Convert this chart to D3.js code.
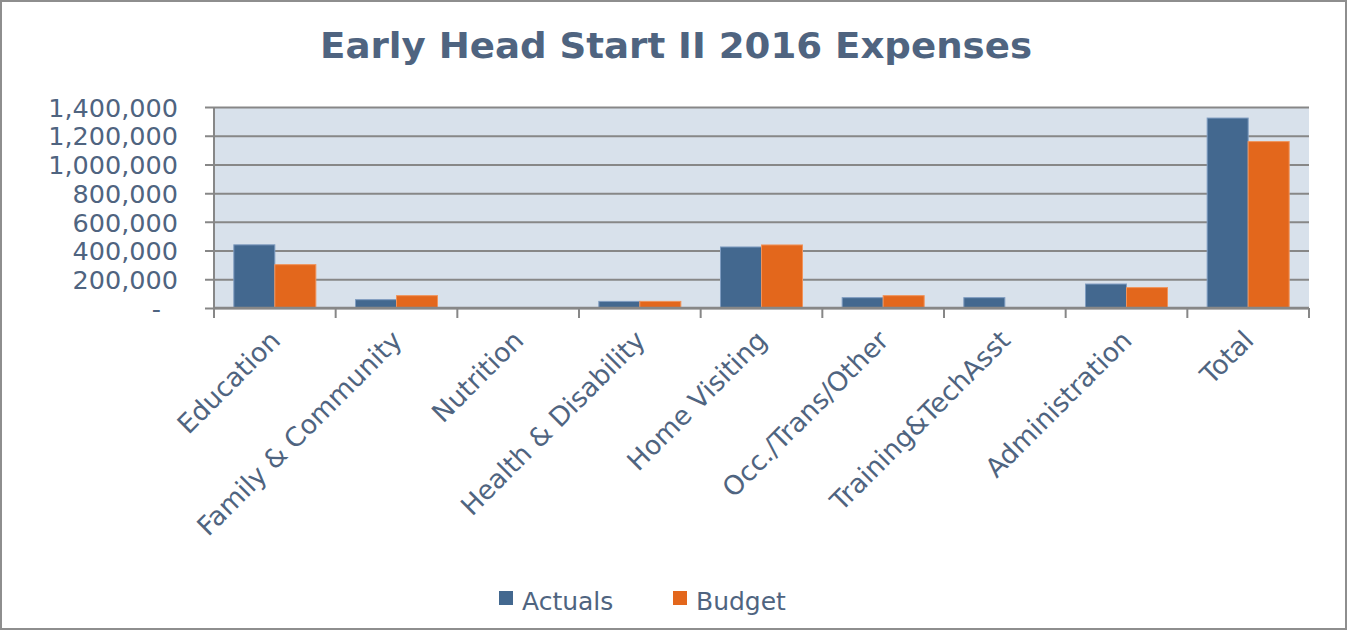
<!DOCTYPE html>
<html>
<head>
<meta charset="utf-8">
<script src="https://cdn.jsdelivr.net/npm/d3@7"></script>
<style>
  html, body { margin: 0; padding: 0; background: #fff; }
  svg { display: block; }
  text { font-family: "DejaVu Sans", Verdana, sans-serif; fill: #4f6480; }
</style>
</head>
<body>
<script>
// values
var categories = ['Education', 'Family & Community', 'Nutrition', 'Health & Disability',
                  'Home Visiting', 'Occ./Trans/Other', 'Training&TechAsst', 'Administration', 'Total'];
var actuals = [440000, 58000, 1500, 46000, 425000, 72000, 72000, 167000, 1323000];
var budget  = [302000, 86000, 1500, 46000, 439000, 86000, 0, 142000, 1159000];
var seriesNames = ['Actuals', 'Budget'];
var seriesColors = ['#43688f', '#e3671c'];
var seriesStroke = ['#7f9cc0', '#f0935a'];
var yTicks = [0, 200000, 400000, 600000, 800000, 1000000, 1200000, 1400000];

var W = 1348, H = 631;
var margin = {top: 107, right: 39, bottom: 323, left: 214};
var width = W - margin.left - margin.right,
    height = H - margin.top - margin.bottom;

var svg = d3.select("body").append("svg")
    .attr("width", W)
    .attr("height", H);

// outer frame
svg.append("rect")
    .attr("x", 1).attr("y", 1)
    .attr("width", W - 3).attr("height", H - 3)
    .attr("fill", "#fff")
    .attr("stroke", "#8e8e8e")
    .attr("stroke-width", 2);

// title
svg.append("text")
    .attr("x", 676)
    .attr("y", 58)
    .attr("text-anchor", "middle")
    .style("font-size", "36px")
    .style("font-weight", "bold")
    .attr("textLength", 712)
    .attr("lengthAdjust", "spacingAndGlyphs")
    .text("Early Head Start II 2016 Expenses");

var g = svg.append("g")
    .attr("transform", "translate(" + margin.left + "," + margin.top + ")");

var x0 = d3.scaleBand().domain(categories).range([0, width]).padding(0);
var bw = x0.bandwidth();
var x1 = d3.scaleBand().domain(seriesNames).range([bw * 0.163, bw * 0.837]).padding(0);
var y = d3.scaleLinear().domain([0, 1400000]).range([height, 0]);

// plot background
g.append("rect")
    .attr("width", width).attr("height", height)
    .attr("fill", "#d8e1eb");

// y axis with gridlines
var yAxis = g.append("g")
    .call(d3.axisLeft(y).tickValues(yTicks)
      .tickSize(-width)
      .tickSizeOuter(0)
      .tickPadding(36)
      .tickFormat(function(d) { return d === 0 ? "-" : d3.format(",")(d); }));
yAxis.select(".domain").remove();
yAxis.selectAll(".tick line")
    .attr("x1", -9)
    .attr("stroke", "#878787")
    .attr("stroke-width", 2);
yAxis.selectAll(".tick text")
    .style("font-size", "25.5px")
    .attr("fill", "#4f6480")
    .attr("dy", "0.36em")
    .attr("dx", function(d) { return d === 0 ? -17 : 0; });

// bars
var rows = categories.map(function(c, i) {
  return {cat: c, values: [actuals[i], budget[i]]};
});

var groups = g.selectAll(".grp")
    .data(rows)
  .enter().append("g")
    .attr("class", "grp")
    .attr("transform", function(d) { return "translate(" + x0(d.cat) + ",0)"; });

groups.selectAll("rect")
    .data(function(d) { return d.values.map(function(v, k) { return {key: seriesNames[k], k: k, value: v}; }); })
  .enter().append("rect")
    .attr("x", function(d) { return x1(d.key); })
    .attr("y", function(d) { return y(d.value); })
    .attr("width", x1.bandwidth())
    .attr("height", function(d) { return height - y(d.value); })
    .attr("fill", function(d) { return seriesColors[d.k]; })
    .attr("stroke", function(d) { return d.value > 0 ? seriesStroke[d.k] : "none"; })
    .attr("stroke-width", 1);

// left axis line
g.append("line")
    .attr("x1", 0).attr("x2", 0)
    .attr("y1", 0).attr("y2", height)
    .attr("stroke", "#878787")
    .attr("stroke-width", 2);

// x axis
var xTickPos = categories.map(function(c) { return x0(c); }).concat([width]);
var xAxis = g.append("g").attr("transform", "translate(0," + height + ")");
xAxis.append("line")
    .attr("x1", 0).attr("x2", width)
    .attr("stroke", "#878787")
    .attr("stroke-width", 2.5);
xAxis.selectAll(".xt")
    .data(xTickPos)
  .enter().append("line")
    .attr("class", "xt")
    .attr("x1", function(d) { return d; }).attr("x2", function(d) { return d; })
    .attr("y1", 0).attr("y2", 10)
    .attr("stroke", "#878787")
    .attr("stroke-width", 2);

xAxis.selectAll(".xl")
    .data(categories)
  .enter().append("text")
    .attr("class", "xl")
    .attr("text-anchor", "end")
    .style("font-size", "26.5px")
    .attr("transform", function(d) {
      return "translate(" + (x0(d) + bw / 2 + 7) + ",34) rotate(-45)";
    })
    .text(function(d) { return d; });

// legend
var legend = svg.append("g").attr("transform", "translate(499,591)");
var li = legend.selectAll("g")
    .data(seriesNames)
  .enter().append("g")
    .attr("transform", function(d, i) { return "translate(" + (i * 174) + ",0)"; });
li.append("rect")
    .attr("width", 14).attr("height", 14)
    .attr("fill", function(d, i) { return seriesColors[i]; });
li.append("text")
    .attr("x", 23)
    .attr("y", 18.5)
    .style("font-size", "25px")
    .text(function(d) { return d; });
</script>
</body>
</html>
